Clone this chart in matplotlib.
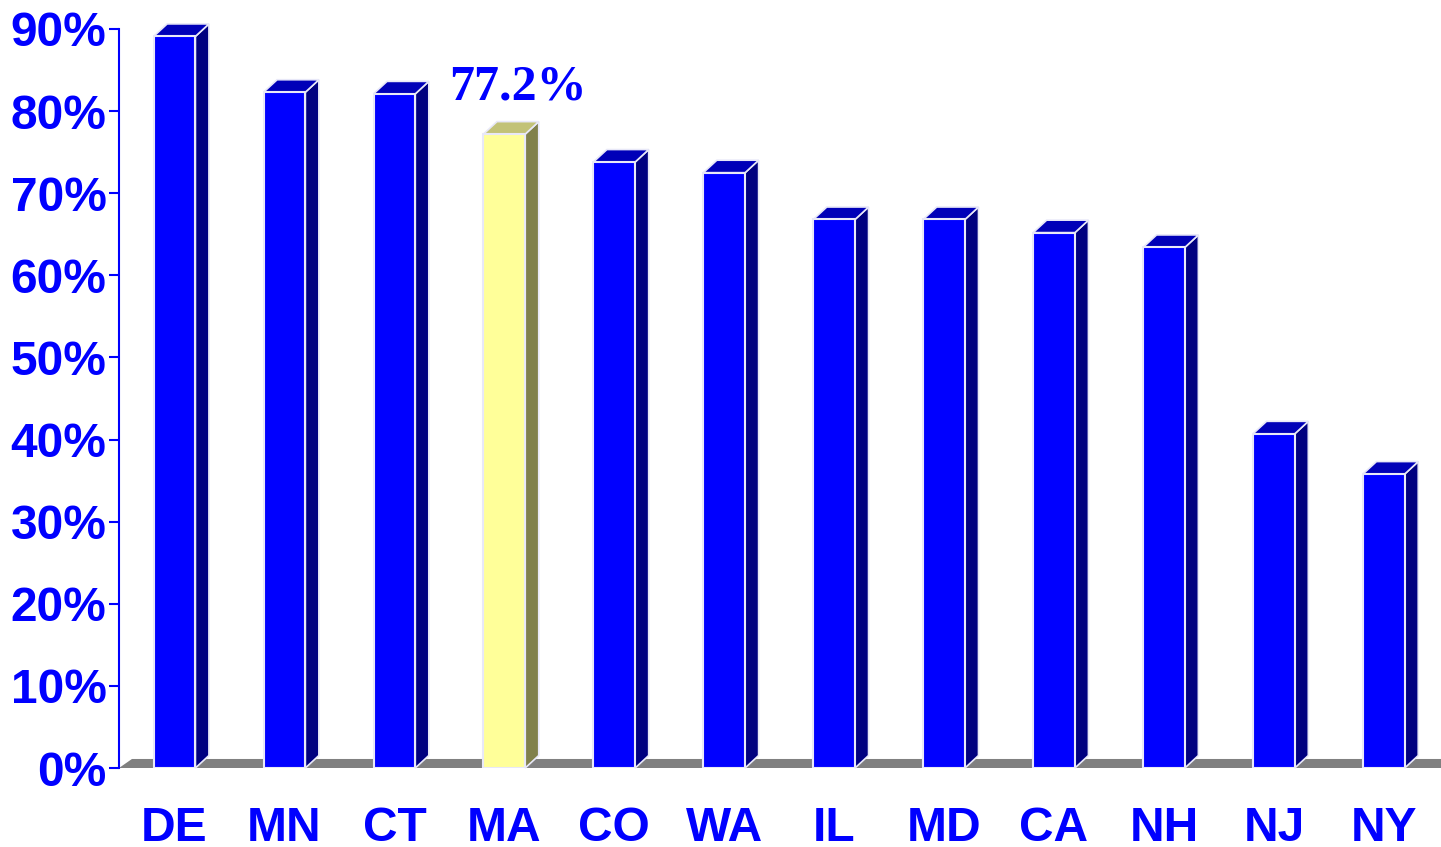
import matplotlib
matplotlib.use("Agg")
import matplotlib.pyplot as plt
from matplotlib.patches import Polygon

states = ["DE", "MN", "CT", "MA", "CO", "WA", "IL", "MD", "CA", "NH", "NJ", "NY"]
values = [89.1, 82.3, 82.1, 77.2, 73.8, 72.5, 66.8, 66.8, 65.2, 63.4, 40.7, 35.8]
highlight = "MA"
yticks = [0, 10, 20, 30, 40, 50, 60, 70, 80, 90]
ytick_labels = [f"{t}%" for t in yticks]

BLUE = "#0000FF"
front_c, side_c, top_c = "#0000FF", "#000080", "#0000B8"
hfront_c, hside_c, htop_c = "#FFFF99", "#80804C", "#C2C277"
edge_c = "#E8E8F8"

fig = plt.figure(figsize=(14.41, 8.47), dpi=100)
ax = fig.add_axes([119 / 1441, 79 / 847, 1 - 119 / 1441, 739 / 847])
ax.set_xlim(-0.505, 11.52)
ax.set_ylim(0, 90)

bw = 0.38
dx = 0.123   # depth in x (data units)
dy = 1.52    # depth in y (data units)
fdx, fdy = 0.118, 1.1

# floor
floor = Polygon([(-0.505, 0), (12.0, 0), (12.0 + fdx, fdy), (-0.505 + fdx, fdy)],
                closed=True, facecolor="#808080", edgecolor="none", zorder=1, clip_on=False)
ax.add_patch(floor)

for i, (s, v) in enumerate(zip(states, values)):
    if s == highlight:
        fc, sc, tc = hfront_c, hside_c, htop_c
    else:
        fc, sc, tc = front_c, side_c, top_c
    x0 = i - bw / 2
    x1 = i + bw / 2
    ax.bar(i, v, width=bw, color=fc, edgecolor=edge_c, linewidth=1.5, zorder=3)
    side = Polygon([(x1, 0), (x1 + dx, dy), (x1 + dx, v + dy), (x1, v)], closed=True,
                   facecolor=sc, edgecolor=edge_c, linewidth=1.2, zorder=2, clip_on=False)
    top = Polygon([(x0, v), (x1, v), (x1 + dx, v + dy), (x0 + dx, v + dy)], closed=True,
                  facecolor=tc, edgecolor=edge_c, linewidth=1.2, zorder=2, clip_on=False)
    ax.add_patch(side)
    ax.add_patch(top)
    if s == highlight:
        ax.annotate(f"{v:.1f}%", xy=(i + dx, v + dy), xytext=(0, 16), textcoords="offset points",
                    ha="center", va="baseline", color=BLUE, fontsize=36, fontweight="bold",
                    family="Liberation Serif", zorder=5)

for sp in ["top", "right", "bottom"]:
    ax.spines[sp].set_visible(False)
ax.spines["left"].set_color(BLUE)
ax.spines["left"].set_linewidth(1.5)

ax.set_yticks(yticks)
ax.set_yticklabels(ytick_labels)
ax.set_xticks(range(len(states)))
ax.set_xticklabels(states)
ax.tick_params(axis="y", colors=BLUE, length=7, width=1.5, pad=2, labelsize=34.5)
ax.tick_params(axis="x", length=0, pad=27, labelsize=34.5, colors=BLUE)
for lab in ax.get_xticklabels() + ax.get_yticklabels():
    lab.set_fontfamily("Liberation Sans")
    lab.set_fontweight("bold")
    lab.set_color(BLUE)

fig.savefig("out.png", dpi=100)
